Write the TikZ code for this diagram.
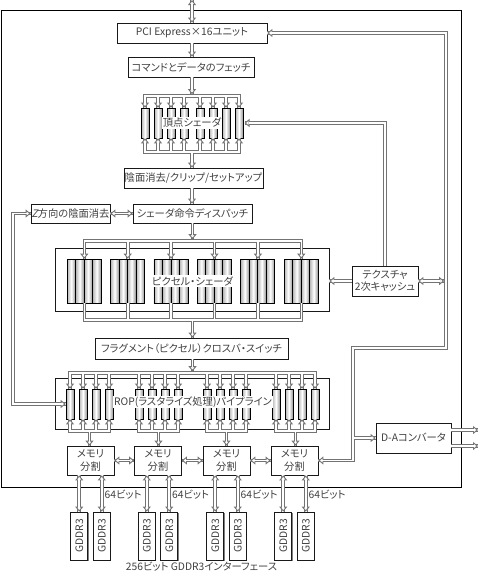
\documentclass[tikz,border=0pt]{standalone}
\usepackage{fontspec}
\usepackage{graphicx}
\setmainfont{Noto Sans CJK JP}[RawFeature=+palt]
\newfontfamily\slantfont{Noto Sans CJK JP}[FakeSlant=0.2]
\usetikzlibrary{arrows.meta,shadows}
\newcommand\tipD[1]{\draw[atip] ([yshift=5pt]#1) -- (#1);\draw[wpass] ([yshift=5.7pt]#1) -- ([yshift=4pt]#1);}
\newcommand\tipU[1]{\draw[atip] ([yshift=-5pt]#1) -- (#1);\draw[wpass] ([yshift=-5.7pt]#1) -- ([yshift=-4pt]#1);}
\newcommand\tipL[1]{\draw[atip] ([xshift=5pt]#1) -- (#1);\draw[wpass] ([xshift=5.7pt]#1) -- ([xshift=4pt]#1);}
\newcommand\tipR[1]{\draw[atip] ([xshift=-5pt]#1) -- (#1);\draw[wpass] ([xshift=-5.7pt]#1) -- ([xshift=-4pt]#1);}
\newcommand\conns[1]{%
  \draw[#1] (topend) -- (pci.north);
  \draw[#1] (pci.south) -- (pci.south |- fetch.north);
  \draw[#1] (pci.south |- fetch.south) -- (vbtE);
  \draw[#1] (v1.north) |- (vbt) -| (v8.north);
  \foreach \i in {2,...,7} \draw[#1] (v\i.north |- vbt) -- (v\i.north);
  \draw[#1] (v1.south) |- (vbb) -| (v8.south);
  \foreach \i in {2,...,7} \draw[#1] (v\i.south |- vbb) -- (v\i.south);
  \draw[#1] (vbb) -- (vbb |- cull.north);
  \draw[#1] (tex.north) |- (v8E);
  \draw[#1] (vbb |- cull.south) -- (vbb |- disp.north);
  \draw[#1] (zb.east) -- (disp.west);
  \draw[#1] (pbt |- disp.south) -- (pbtE);
  \draw[#1] (p1-2.north east) |- (pbt) -| (p6-2.north east);
  \foreach \g in {2,...,5} \draw[#1] (p\g-2.north east |- pbt) -- (p\g-2.north east);
  \draw[#1] (p1-2.south east) |- (pbb) -| (p6-2.south east);
  \foreach \g in {2,...,5} \draw[#1] (p\g-2.south east |- pbb) -- (p\g-2.south east);
  \draw[#1] (pbb) -- (pbb |- xbar.north);
  \draw[#1] (tex.west) -- (tex.west -| pix.east);
  \draw[#1] (tex.east) -- (texR);
  \draw[#1] (rbt |- xbar.south) -- (rbtE);
  \draw[#1] (r1-1.north) |- (rbt) -| (r4-4.north);
  \foreach \g in {1,...,4}{\foreach \j in {1,...,4}{\draw[#1] (r\g-\j.north |- rbt) -- (r\g-\j.north);}}
  \foreach \g in {1,...,4}{%
    \draw[#1] (r\g-1.south) |- (rbb\g) -| (r\g-4.south);
    \draw[#1] (r\g-2.south |- rbb\g) -- (r\g-2.south);
    \draw[#1] (r\g-3.south |- rbb\g) -- (r\g-3.south);
    \draw[#1] (rbb\g) -- (rbb\g |- mem\g.north);
    \draw[#1] (d\g-1.north |- mem\g.south) -- (d\g-1.north);
    \draw[#1] (d\g-2.north |- mem\g.south) -- (d\g-2.north);
  }
  \draw[#1] (mem1.east) -- (mem2.west);
  \draw[#1] (mem2.east) -- (mem3.west);
  \draw[#1] (mem3.east) -- (mem4.west);
  \draw[#1] (pci.east) -- (rt) -- (rb) -- (lb) |- (mem4.east);
  \draw[#1] (lb |- da.west) -- (da.west);
  \draw[#1] (da.east |- o1) -- (o1);
  \draw[#1] (da.east |- o2) -- (o2);
  \draw[#1] (zb.west) -- (l1) -- (l2) -- (r1-1.west);
}
\begin{document}
\begin{tikzpicture}[x=1pt,y=-1pt,
  font=\fontsize{10.3}{12.5}\selectfont,
  gpass/.style={draw=black!55,line width=3.6pt},
  wpass/.style={draw=white,line width=1.6pt},
  atip/.style={draw=white,line width=0.6pt,
    -{Triangle[length=5pt,width=8pt,color=black!55,fill=white,line width=0.9pt]}},
  box/.style={draw=black!90,line width=0.8pt,fill=white,inner sep=0pt,align=center,text=black!75,
    drop shadow={shadow xshift=0.8pt,shadow yshift=-0.8pt,fill=black!50,opacity=1}},
  bar/.style={draw=black,line width=0.6pt,inner sep=0pt,left color=black!30,right color=black!42,middle color=white},
  lbl/.style={fill=white,inner sep=1pt,text=black!75},
  txt/.style={inner sep=0pt,text=black!75},
]
\useasboundingbox (0,0) rectangle (480,573);
\draw[line width=1pt] (1,10) rectangle (461,487);

% boxes
\node[box,minimum width=150pt,minimum height=20pt] (pci) at (192,33) {PCI Express×16ユニット};
\node[box,minimum width=126pt,minimum height=20pt] (fetch) at (191,67) {コマンドとデータのフェッチ};
\node[box,minimum width=139pt,minimum height=20pt] (cull) at (193.5,178) {陰面消去/クリップ/セットアップ};
\node[box,minimum width=79pt,minimum height=19pt] (zb) at (70.5,213.5) {{\slantfont Z}方向の陰面消去};
\node[box,minimum width=119pt,minimum height=19pt] (disp) at (192.5,213.5) {シェーダ命令ディスパッチ};
\node[box,minimum width=274pt,minimum height=63pt] (pix) at (192,279.5) {};
\node[box,minimum width=66pt,minimum height=30pt] (tex) at (385,281) {テクスチャ\\2次キャッシュ};
\node[box,minimum width=193pt,minimum height=21pt] (xbar) at (191.5,348.5) {フラグメント（ピクセル）クロスバ・スイッチ};
\node[box,minimum width=274pt,minimum height=51pt] (rop) at (192,403.5) {};
\node[box,minimum width=75pt,minimum height=30pt] (da) at (413.5,438) {D-Aコンバータ};

\foreach \g/\c in {1/90.5,2/158,3/226.5,4/294.5}{
  \node[box,minimum width=47pt,minimum height=29pt] (mem\g) at (\c,460.5) {メモリ\\分割};
  \node[box,minimum width=17pt,minimum height=48pt] (d\g-1) at ({\c-11.25},536) {\rotatebox{90}{GDDR3}};
  \node[box,minimum width=17pt,minimum height=48pt] (d\g-2) at ({\c+11.25},536) {\rotatebox{90}{GDDR3}};
  \node[txt,anchor=west] (b\g) at ({\c+14},495) {64ビット};
}
\node[txt] (iface) at (201.5,567) {256ビット GDDR3インターフェース};

% bars
\foreach \i/\x in {1/145,2/158,3/171,4/184,5/200,6/213,7/226,8/239}
  \node[bar,minimum width=8pt,minimum height=30pt] (v\i) at (\x,123) {};
\foreach \g/\c in {1/84,2/127.4,3/170.8,4/214.2,5/257.6,6/301}{
  \foreach \j/\o in {1/-12.75,2/-4.25,3/4.25,4/12.75}
    \node[bar,minimum width=8.5pt,minimum height=44pt] (p\g-\j) at ({\c+\o},281) {};
}
\foreach \g/\c in {1/89.5,2/158.5,3/226.5,4/295.5}{
  \foreach \j/\o in {1/-19.5,2/-6.5,3/6.5,4/19.5}
    \node[bar,minimum width=8pt,minimum height=30pt] (r\g-\j) at ({\c+\o},404) {};
}
\node[lbl] (vlbl) at (192,123) {頂点シェーダ};
\node[lbl] (plbl) at (192.5,281) {ピクセル・シェーダ};
\node[lbl] (rlbl) at (193,402) {ROP(ラスタライズ処理)パイプライン};

% bus coordinates
\coordinate (topend) at (192,0);
\coordinate (vbt) at (192,96);
\coordinate (vbtE) at (192,94.2);
\coordinate (vbb) at (192,152);
\coordinate (pbt) at (192.5,241);
\coordinate (pbtE) at (192.5,239.2);
\coordinate (pbb) at (192.5,320);
\coordinate (rbt) at (192.5,373);
\coordinate (rbtE) at (192.5,371.2);
\foreach \g/\c in {1/89.5,2/158.5,3/226.5,4/295.5} \coordinate (rbb\g) at (\c,431);
\coordinate (v8E) at (244.5,123);
\coordinate (rt) at (446,33);
\coordinate (texR) at (444.2,281);
\coordinate (rb) at (446,348);
\coordinate (lb) at (353,348);
\coordinate (l1) at (13,213.5);
\coordinate (l2) at (13,404);
\coordinate (o1) at (478,430);
\coordinate (o2) at (478,446);

% connectors: grey pass, white pass, then tips
\conns{gpass}
\conns{wpass}

\tipU{topend}
\tipD{pci.north}
\tipD{pci.south |- fetch.north}
\tipD{vbtE}
\foreach \i in {1,...,8}{\tipD{v\i.north}\tipU{v\i.south}}
\tipD{vbb |- cull.north}
\tipL{v8E}
\tipD{vbb |- disp.north}
\tipL{zb.east}
\tipR{disp.west}
\tipD{pbtE}
\foreach \g in {1,...,6}{\tipD{p\g-2.north east}}
\tipD{pbb |- xbar.north}
\tipL{tex.west -| pix.east}
\tipL{tex.east}
\tipR{texR}
\tipD{rbtE}
\foreach \g in {1,...,4}{%
  \foreach \j in {1,...,4}{\tipD{r\g-\j.north}\tipU{r\g-\j.south}}
  \tipD{rbb\g |- mem\g.north}
  \tipU{d\g-1.north |- mem\g.south}
  \tipU{d\g-2.north |- mem\g.south}
  \tipD{d\g-1.north}
  \tipD{d\g-2.north}
}
\tipL{mem1.east}\tipR{mem2.west}
\tipL{mem2.east}\tipR{mem3.west}
\tipL{mem3.east}\tipR{mem4.west}
\tipL{pci.east}
\tipL{mem4.east}
\tipR{da.west}
\tipR{o1}
\tipR{o2}
\tipR{zb.west}
\tipR{r1-1.west}
\end{tikzpicture}
\end{document}
